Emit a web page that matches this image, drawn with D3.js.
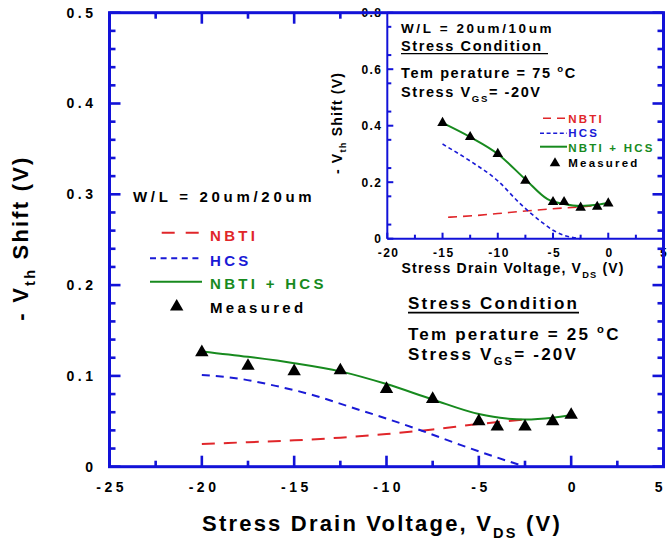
<!DOCTYPE html>
<html>
<head>
<meta charset="utf-8">
<script src="https://cdn.jsdelivr.net/npm/d3@7"></script>
<style>
  body { margin: 0; background: #fff; }
  svg text { font-family: "Liberation Sans", Arial, sans-serif; font-weight: bold; }
</style>
</head>
<body>
<div id="chart"></div>
<script>
// main plot: W/L = 20um/20um, 25 C
var nbtiX = [-20, -17.5, -15, -12.5, -10, -7.5, -5, -2.5]
var nbtiY = [0.025, 0.027, 0.029, 0.032, 0.036, 0.041, 0.047, 0.052]
var hcsX = [-20, -18, -16, -14, -12, -10, -8, -6, -4, -2.5]
var hcsY = [0.101, 0.097, 0.089, 0.079, 0.066, 0.053, 0.039, 0.024, 0.010, 0]
var sumX = [-20, -17.5, -15, -12.5, -10, -7.5, -5, -3.5, -2.5, -1, 0]
var sumY = [0.127, 0.121, 0.114, 0.105, 0.091, 0.074, 0.058, 0.053, 0.052, 0.054, 0.057]
var measX = [-20, -17.5, -15, -12.5, -10, -7.5, -5, -4, -2.5, -1, 0]
var measY = [0.126, 0.111, 0.105, 0.106, 0.0855, 0.0745, 0.050, 0.044, 0.044, 0.050, 0.057]

// inset: W/L = 20um/10um, 75 C
var inNbtiX = [-14.5, -12, -10, -7.5, -5, -2.5, -1]
var inNbtiY = [0.076, 0.082, 0.089, 0.098, 0.106, 0.113, 0.118]
var inHcsX = [-15, -12.5, -10, -8, -6, -5, -4, -3, -2.5]
var inHcsY = [0.335, 0.275, 0.205, 0.125, 0.058, 0.030, 0.012, 0.003, 0]
var inSumX = [-15, -12.5, -10, -7.5, -5.5, -4, -2.5, -1, 0]
var inSumY = [0.41, 0.36, 0.30, 0.21, 0.14, 0.123, 0.116, 0.120, 0.127]
var inMeasX = [-15, -12.5, -10, -7.5, -5, -4, -2.5, -1, 0]
var inMeasY = [0.41, 0.36, 0.30, 0.205, 0.13, 0.13, 0.11, 0.113, 0.125]

// tick labels
var xTicks = [-25, -20, -15, -10, -5, 0, 5]
var yTicks = [0, 0.1, 0.2, 0.3, 0.4, 0.5]
var yTickLabels = ["0", "0.1", "0.2", "0.3", "0.4", "0.5"]
var inXTicks = [-20, -15, -10, -5, 0, 5]
var inYTicks = [0, 0.2, 0.4, 0.6, 0.8]
var inYTickLabels = ["0", "0.2", "0.4", "0.6", "0.8"]

var width = 667
var height = 540

var axisBlue = "#1212d8"
var red = "#e0262a"
var blue = "#1a1ad6"
var green = "#178a1e"

var svg = d3.select("#chart")
    .append("svg")
    .attr("width", width)
    .attr("height", height)

// text with sub / superscripts, parts = [{t, sub, sup}]
function richText(parent, x, y, size, ls, parts, color) {
    var t = parent.append("text")
        .attr("x", x).attr("y", y)
        .style("font-size", size + "px")
        .style("letter-spacing", ls + "px")
        .attr("fill", color || "#000")
    var shift = 0
    parts.forEach(function (p) {
        var target = p.sub ? size * 0.3 : (p.sup ? -size * 0.42 : 0)
        var ts = t.append("tspan").text(p.t).attr("dy", target - shift)
        if (p.sub || p.sup) ts.style("font-size", (size * 0.66) + "px")
        shift = target
    })
    return t
}

// tick marks as small filled rects, on a horizontal axis (at yPos) or a vertical axis (at xPos)
function hTicks(parent, values, scale, yPos, len, sw) {
    parent.selectAll(null).data(values).enter().append("rect")
        .attr("x", function (v) { return scale(v) - sw / 2 })
        .attr("y", Math.min(yPos, yPos + len))
        .attr("width", sw).attr("height", Math.abs(len))
        .attr("fill", axisBlue)
}
function vTicks(parent, values, scale, xPos, len, sw) {
    parent.selectAll(null).data(values).enter().append("rect")
        .attr("y", function (v) { return scale(v) - sw / 2 })
        .attr("x", Math.min(xPos, xPos + len))
        .attr("height", sw).attr("width", Math.abs(len))
        .attr("fill", axisBlue)
}

// ---------------- main plot ----------------
var x = d3.scaleLinear().domain([-25, 5]).range([109.5, 663.5])
var y = d3.scaleLinear().domain([0, 0.5]).range([466.7, 12.7])

var line = d3.line()
    .x(function (d) { return x(d[0]) })
    .y(function (d) { return y(d[1]) })
    .curve(d3.curveMonotoneX)

svg.append("path").datum(d3.zip(nbtiX, nbtiY))
    .attr("d", line).attr("fill", "none")
    .attr("stroke", red).attr("stroke-width", 2).attr("stroke-dasharray", "13,9")
svg.append("path").datum(d3.zip(hcsX, hcsY))
    .attr("d", line).attr("fill", "none")
    .attr("stroke", blue).attr("stroke-width", 2).attr("stroke-dasharray", "8,6")
svg.append("path").datum(d3.zip(sumX, sumY))
    .attr("d", line).attr("fill", "none")
    .attr("stroke", green).attr("stroke-width", 2)

svg.selectAll("mainTri")
    .data(d3.zip(measX, measY))
    .enter()
    .append("path")
    .attr("d", d3.symbol(d3.symbolTriangle, 78))
    .attr("transform", function (d) { return "translate(" + x(d[0]) + "," + y(d[1]) + ")" })
    .attr("fill", "#000")

// main legend
richText(svg, 133, 201.5, 15, 3.7, [{ t: "W/L = 20um/20um" }])
svg.append("line").attr("x1", 161.7).attr("x2", 202).attr("y1", 232.7).attr("y2", 232.7)
    .attr("stroke", red).attr("stroke-width", 2).attr("stroke-dasharray", "13,11")
svg.append("line").attr("x1", 150).attr("x2", 203).attr("y1", 258.3).attr("y2", 258.3)
    .attr("stroke", blue).attr("stroke-width", 2).attr("stroke-dasharray", "6,4.6")
svg.append("line").attr("x1", 150).attr("x2", 202).attr("y1", 281.7).attr("y2", 281.7)
    .attr("stroke", green).attr("stroke-width", 2)
svg.append("path").attr("d", d3.symbol(d3.symbolTriangle, 78))
    .attr("transform", "translate(176.7,306.7)")
richText(svg, 210, 241, 15, 3.3, [{ t: "NBTI" }], red)
richText(svg, 210, 265.7, 15, 3.3, [{ t: "HCS" }], blue)
richText(svg, 210, 289, 15, 3.3, [{ t: "NBTI + HCS" }], green)
richText(svg, 210, 312.7, 15, 3.3, [{ t: "Measured" }])

// stress condition note
richText(svg, 408, 309.3, 17, 2.2, [{ t: "Stress Condition" }])
svg.append("line").attr("x1", 408).attr("x2", 579).attr("y1", 312.6).attr("y2", 312.6)
    .attr("stroke", "#000").attr("stroke-width", 1.6)
richText(svg, 408, 340, 17, 2.2, [{ t: "Tem perature = 25 " }, { t: "o", sup: true }, { t: "C" }])
richText(svg, 408, 360, 17, 2.2, [{ t: "Stress V" }, { t: "GS", sub: true }, { t: "= -20V" }])

// ---------------- inset ----------------
var ix = d3.scaleLinear().domain([-20, 5]).range([387.3, 663.5])
var iy = d3.scaleLinear().domain([0, 0.8]).range([238.7, 12.7])

var inset = svg.append("g")

var iline = d3.line()
    .x(function (d) { return ix(d[0]) })
    .y(function (d) { return iy(d[1]) })
    .curve(d3.curveMonotoneX)

inset.append("path").datum(d3.zip(inNbtiX, inNbtiY))
    .attr("d", iline).attr("fill", "none")
    .attr("stroke", red).attr("stroke-width", 1.6).attr("stroke-dasharray", "9,6")
inset.append("path").datum(d3.zip(inHcsX, inHcsY))
    .attr("d", iline).attr("fill", "none")
    .attr("stroke", blue).attr("stroke-width", 1.6).attr("stroke-dasharray", "4,3")
inset.append("path").datum(d3.zip(inSumX, inSumY))
    .attr("d", iline).attr("fill", "none")
    .attr("stroke", green).attr("stroke-width", 2)
inset.selectAll("inTri")
    .data(d3.zip(inMeasX, inMeasY))
    .enter()
    .append("path")
    .attr("d", d3.symbol(d3.symbolTriangle, 48))
    .attr("transform", function (d) { return "translate(" + ix(d[0]) + "," + iy(d[1]) + ")" })

// inset axes (labels from d3 axes, tick marks drawn with the same scales)
var ixAxis = inset.append("g").attr("transform", "translate(0,238.7)")
    .call(d3.axisBottom(ix).tickValues(inXTicks).tickSize(0).tickPadding(10).tickFormat(function (d) { return d }))
ixAxis.selectAll("text").style("font-size", "12px").style("letter-spacing", "1.4px").attr("dx", 0.7)
ixAxis.selectAll(".tick").filter(function (d) { return d === 5 }).select("text")
    .attr("text-anchor", "end").attr("dx", 4)

var iyAxis = inset.append("g").attr("transform", "translate(387.3,0)")
    .call(d3.axisLeft(iy).tickValues(inYTicks).tickSize(0).tickPadding(5)
        .tickFormat(function (d, i) { return inYTickLabels[i] }))
iyAxis.selectAll("text").style("font-size", "12px").style("letter-spacing", "1.4px")

inset.append("line").attr("x1", 387.3).attr("x2", 387.3).attr("y1", 12.7).attr("y2", 238.7)
    .attr("stroke", axisBlue).attr("stroke-width", 2)
inset.append("line").attr("x1", 387.3).attr("x2", 663.5).attr("y1", 238.7).attr("y2", 238.7)
    .attr("stroke", axisBlue).attr("stroke-width", 2)

hTicks(inset, inXTicks, ix, 238.7, -6, 2)
hTicks(inset, d3.range(-17.5, 5, 5), ix, 238.7, -4, 2)
vTicks(inset, inYTicks, iy, 387.3, 6, 2)
vTicks(inset, d3.range(0.05, 0.8, 0.1), iy, 387.3, 4, 2)

// inset titles and notes
richText(inset, 401.5, 273.3, 14, 1.2, [{ t: "Stress Drain Voltage, V" }, { t: "DS", sub: true }, { t: " (V)" }])
richText(inset, 0, 0, 14, 1.2, [{ t: "- V" }, { t: "th", sub: true }, { t: " Shift (V)" }])
    .attr("text-anchor", "middle")
    .attr("transform", "translate(342,123) rotate(-90)")

richText(inset, 401, 33.3, 13.5, 2.6, [{ t: "W/L = 20um/10um" }])
richText(inset, 401, 50.5, 14.5, 1.6, [{ t: "Stress Condition" }])
inset.append("line").attr("x1", 401).attr("x2", 548).attr("y1", 53.6).attr("y2", 53.6)
    .attr("stroke", "#000").attr("stroke-width", 1.3)
richText(inset, 401, 78.3, 14.5, 1.6, [{ t: "Tem perature = 75 " }, { t: "o", sup: true }, { t: "C" }])
richText(inset, 401, 97.3, 14.5, 1.6, [{ t: "Stress V" }, { t: "GS", sub: true }, { t: "= -20V" }])

// inset legend
inset.append("line").attr("x1", 543).attr("x2", 566).attr("y1", 118.3).attr("y2", 118.3)
    .attr("stroke", red).attr("stroke-width", 1.6).attr("stroke-dasharray", "8,6")
inset.append("line").attr("x1", 540).attr("x2", 567).attr("y1", 133.3).attr("y2", 133.3)
    .attr("stroke", blue).attr("stroke-width", 1.6).attr("stroke-dasharray", "4,2.6")
inset.append("line").attr("x1", 540).attr("x2", 567).attr("y1", 146.7).attr("y2", 146.7)
    .attr("stroke", green).attr("stroke-width", 2)
inset.append("path").attr("d", d3.symbol(d3.symbolTriangle, 48))
    .attr("transform", "translate(555,163.3)")
richText(inset, 568.3, 122.5, 11.5, 2.2, [{ t: "NBTI" }], red)
richText(inset, 568.3, 137.3, 11.5, 2.2, [{ t: "HCS" }], blue)
richText(inset, 568.3, 151.5, 11.5, 2.2, [{ t: "NBTI + HCS" }], green)
richText(inset, 568.3, 167, 11.5, 2.2, [{ t: "Measured" }])

// ---------------- main axes on top ----------------
var yMinor = d3.range(0.02, 0.5, 0.02).filter(function (d) { return Math.round(d * 100) % 10 !== 0 })

var bottomAxis = svg.append("g").attr("transform", "translate(0,466.7)")
    .call(d3.axisBottom(x).tickValues(xTicks).tickSize(0).tickPadding(15).tickFormat(function (d) { return d }))
bottomAxis.selectAll("text").style("font-size", "14px").style("letter-spacing", "3.5px").attr("dx", 1.7)
bottomAxis.selectAll(".tick").filter(function (d) { return d === 5 }).select("text")
    .attr("text-anchor", "end").attr("dx", 2)

var leftAxis = svg.append("g").attr("transform", "translate(109.5,0)")
    .call(d3.axisLeft(y).tickValues(yTicks).tickSize(0).tickPadding(13)
        .tickFormat(function (d, i) { return yTickLabels[i] }))
leftAxis.selectAll("text").style("font-size", "14px").style("letter-spacing", "3.5px")

svg.selectAll(".domain").remove()
svg.selectAll(".tick text").attr("fill", "#000")

svg.append("rect")
    .attr("x", 109.5).attr("y", 12.7)
    .attr("width", 663.5 - 109.5).attr("height", 466.7 - 12.7)
    .attr("fill", "none").attr("stroke", axisBlue).attr("stroke-width", 3)

// inward ticks on all four sides (top ones only left of the inset)
hTicks(svg, xTicks, x, 466.7, -11, 2.6)
hTicks(svg, d3.range(-22.5, 5, 5), x, 466.7, -6, 2.6)
hTicks(svg, [-20, -15], x, 12.7, 11, 2.6)
hTicks(svg, [-22.5, -17.5, -12.5], x, 12.7, 6, 2.6)
vTicks(svg, yTicks, y, 109.5, 11, 2.6)
vTicks(svg, yMinor, y, 109.5, 6, 2.6)
vTicks(svg, yTicks, y, 663.5, -11, 2.6)
vTicks(svg, yMinor, y, 663.5, -6, 2.6)

// main axis titles
richText(svg, 382, 531, 22, 2.2, [{ t: "Stress Drain Voltage, V" }, { t: "DS", sub: true }, { t: " (V)" }])
    .attr("text-anchor", "middle")
richText(svg, 0, 0, 22, 2.2, [{ t: "- V" }, { t: "th", sub: true }, { t: " Shift (V)" }])
    .attr("text-anchor", "middle")
    .attr("transform", "translate(28,238) rotate(-90)")
</script>
</body>
</html>
